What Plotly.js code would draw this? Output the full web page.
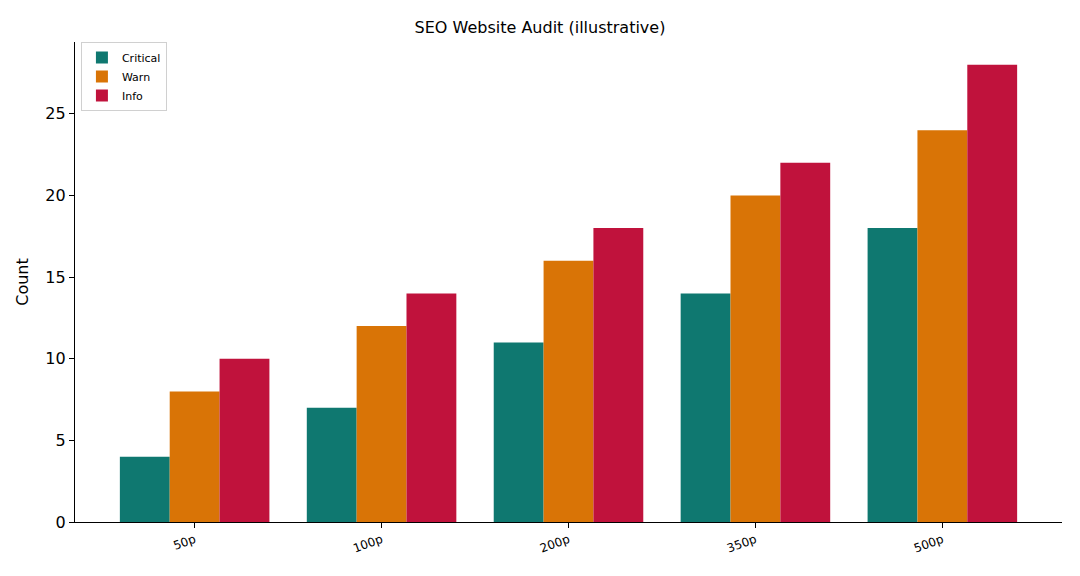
<!DOCTYPE html>
<html>
<head>
<meta charset="utf-8">
<script src="https://cdn.plot.ly/plotly-3.0.1.min.js"></script>
<style>
  html, body { margin: 0; padding: 0; background: #fff; }
  #chart { width: 1080px; height: 576px; }
</style>
</head>
<body>
<div id="chart"></div>
<script>
const categories = ["50p", "100p", "200p", "350p", "500p"];
const critical = [4, 7, 11, 14, 18];
const warn = [8, 12, 16, 20, 24];
const info = [10, 14, 18, 22, 28];
const yTicks = [0, 5, 10, 15, 20, 25];

const font = "DejaVu Sans, sans-serif";

// one bar trace per severity
const traces = [
  { name: "Critical", y: critical, color: "#0f7870" },
  { name: "Warn", y: warn, color: "#d97406" },
  { name: "Info", y: info, color: "#c0123c" }
].map(s => ({
  type: "bar",
  name: s.name,
  x: categories,
  y: s.y,
  marker: { color: s.color, line: { width: 0 } },
  hoverinfo: "x+y+name"
}));

const layout = {
  width: 1080,
  height: 576,
  margin: { l: 75, r: 18, t: 42, b: 54 },
  paper_bgcolor: "#fff",
  plot_bgcolor: "#fff",
  font: { family: font, color: "#000" },
  title: {
    text: "SEO Website Audit (illustrative)",
    font: { size: 16, family: font, color: "#000" },
    x: 0.5, xanchor: "center", y: 0.953, yanchor: "middle"
  },
  barmode: "group",
  bargap: 0.2,
  bargroupgap: 0,
  xaxis: {
    type: "category",
    range: [-0.64, 4.64],
    showgrid: false,
    zeroline: false,
    showline: true,
    linecolor: "#000",
    linewidth: 1.2,
    ticks: "outside",
    ticklen: 5,
    tickcolor: "#000",
    tickangle: -20,
    tickfont: { size: 12, family: font, color: "#000" }
  },
  yaxis: {
    range: [0, 29.4],
    tickvals: yTicks,
    showgrid: false,
    zeroline: false,
    showline: true,
    linecolor: "#000",
    linewidth: 1.2,
    ticks: "outside",
    ticklen: 5,
    tickcolor: "#000",
    tickfont: { size: 16, family: font, color: "#000" },
    title: { text: "Count", font: { size: 16, family: font, color: "#000" }, standoff: 12 }
  },
  legend: {
    x: 0.006, y: 1.0,
    xanchor: "left", yanchor: "top",
    bgcolor: "rgba(255,255,255,0.8)",
    bordercolor: "#d0d0d0",
    borderwidth: 1,
    font: { size: 11, family: font, color: "#000" },
    tracegroupgap: 2
  },
  showlegend: true
};

Plotly.newPlot("chart", traces, layout, { displayModeBar: false, staticPlot: true });
</script>
</body>
</html>
